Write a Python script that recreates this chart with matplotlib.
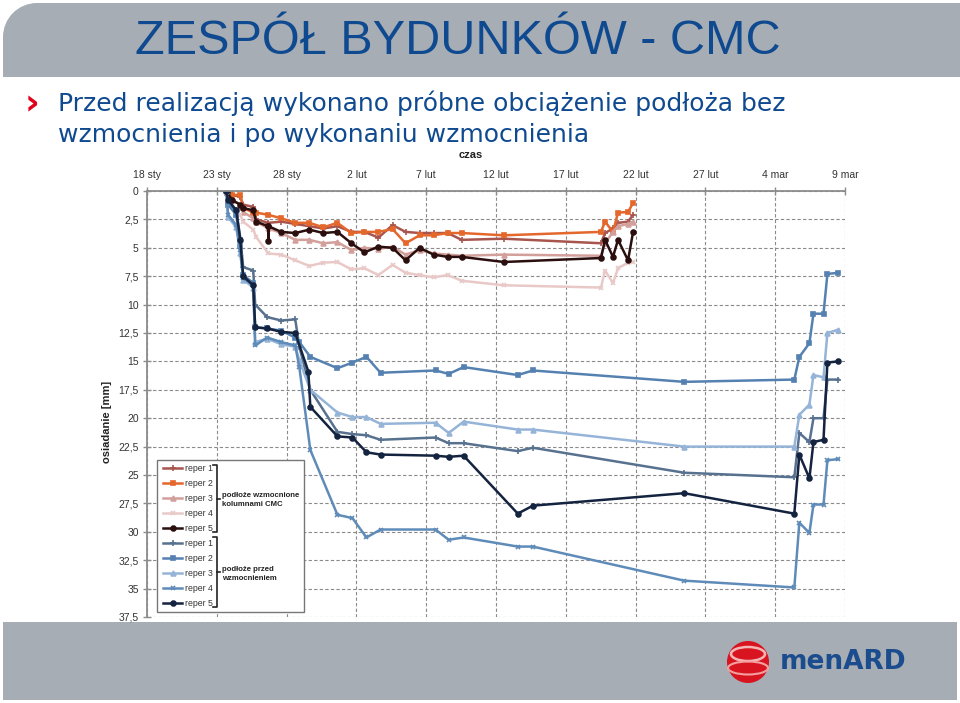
import matplotlib
matplotlib.use("Agg")
import matplotlib.pyplot as plt
from matplotlib.patches import Rectangle, Ellipse

# dni liczone od 18 stycznia
dni_cmc = [5.74, 6.10, 6.68, 6.89, 7.61, 7.82, 8.69, 9.62, 10.62, 11.63, 12.63, 13.64,
           14.64, 15.58, 16.58, 17.59, 18.52, 19.53, 20.53, 21.54, 22.54, 25.56,
           32.52, 32.81, 33.38, 33.74, 34.46, 34.82]
dni_cmc_5 = [5.74, 6.10, 6.68, 6.89, 7.61, 7.82, 8.68, 8.69, 8.70, 9.62, 10.62, 11.63,
             12.63, 13.64, 14.64, 15.58, 16.58, 17.59, 18.52, 19.53, 20.53, 21.54,
             22.54, 25.56, 32.52, 32.81, 33.38, 33.74, 34.46, 34.82]
dni_przed = [5.67, 5.81, 6.39, 6.68, 6.89, 7.61, 7.75, 8.61, 9.62, 10.62, 10.91, 11.70,
             13.64, 14.72, 15.72, 16.73, 20.67, 21.61, 22.68, 26.56, 27.64, 38.48,
             46.37, 46.73, 47.45, 47.74, 48.46, 48.74, 49.53]
dni_przed_5 = [5.67, 5.81, 6.39, 6.68, 6.89, 7.61, 7.75, 8.61, 9.62, 10.62, 11.56, 11.70,
               13.64, 14.72, 15.72, 16.73, 20.67, 21.61, 22.68, 26.56, 27.64, 38.48,
               46.37, 46.73, 47.45, 47.74, 48.46, 48.74, 49.53]

# osiadanie [mm] - podloze wzmocnione kolumnami CMC
cmc_r1 = [0.1, 0.35, 0.5, 1.2, 1.4, 2.5, 2.8, 2.7, 2.9, 3.1, 3.3, 3.1, 3.6, 3.6, 4.1, 3.0,
          3.6, 3.7, 3.7, 3.7, 4.3, 4.2, 4.6, 3.7, 3.3, 2.8, 2.7, 2.1]
cmc_r2 = [0.2, 0.35, 0.35, 1.5, 1.9, 1.9, 2.1, 2.4, 2.8, 2.8, 3.2, 2.8, 3.7, 3.6, 3.6, 3.35,
          4.6, 3.9, 3.9, 3.7, 3.7, 3.9, 3.6, 2.7, 3.6, 1.9, 1.85, 1.05]
cmc_r3 = [0.2, 0.8, 1.2, 1.85, 2.4, 2.7, 3.3, 3.7, 4.3, 4.3, 4.6, 4.5, 5.2, 5.0, 5.1, 4.9,
          5.6, 5.2, 5.5, 5.6, 5.7, 5.6, 5.7, 4.6, 3.6, 3.1, 2.9, 2.7]
cmc_r4 = [0.2, 1.2, 2.1, 2.7, 3.4, 4.05, 5.5, 5.6, 6.1, 6.6, 6.3, 6.25, 6.9, 6.8, 7.4, 6.5,
          7.2, 7.4, 7.6, 7.4, 7.9, 8.3, 8.5, 7.0, 8.1, 6.8, 6.3, 6.25]
cmc_r5 = [0.1, 0.8, 1.2, 1.5, 1.7, 2.7, 3.1, 4.4, 3.1, 3.6, 3.7, 3.4, 3.7, 3.6, 4.6, 5.4,
          4.9, 5.0, 6.1, 5.0, 5.6, 5.8, 5.8, 6.25, 5.9, 4.3, 5.8, 4.3, 6.1, 3.6]

# osiadanie [mm] - podloze przed wzmocnieniem
przed_r1 = [0, 1.1, 1.7, 4.1, 6.7, 7.0, 10.0, 11.1, 11.4, 11.3, 13.7, 17.5, 21.2, 21.4,
            21.5, 21.9, 21.7, 22.2, 22.2, 22.9, 22.6, 24.8, 25.2, 21.3, 22.1, 20.0, 20.0,
            16.6, 16.6]
przed_r2 = [0, 1.2, 2.1, 4.8, 7.4, 8.1, 12.0, 12.1, 12.3, 12.9, 13.3, 14.6, 15.6, 15.1,
            14.6, 16.0, 15.8, 16.1, 15.5, 16.2, 15.8, 16.8, 16.6, 14.6, 13.4, 10.8, 10.8,
            7.3, 7.2]
przed_r3 = [0, 2.3, 3.2, 5.5, 7.8, 8.5, 13.3, 13.0, 13.5, 13.7, 14.9, 17.5, 19.5, 19.9,
            19.9, 20.5, 20.4, 21.3, 20.3, 21.0, 21.0, 22.5, 22.5, 19.7, 18.8, 16.2, 16.4,
            12.5, 12.2]
przed_r4 = [0, 2.1, 3.0, 5.2, 7.7, 8.3, 13.6, 12.9, 13.3, 13.6, 15.5, 22.8, 28.5, 28.8,
            30.5, 29.8, 29.8, 30.7, 30.5, 31.3, 31.3, 34.3, 34.9, 29.2, 30.1, 27.6, 27.6,
            23.7, 23.6]
przed_r5 = [0, 0.8, 1.7, 4.3, 7.5, 8.3, 12.0, 12.1, 12.4, 12.5, 15.9, 19.0, 21.6, 21.7,
            23.0, 23.2, 23.3, 23.4, 23.3, 28.4, 27.7, 26.6, 28.4, 23.2, 25.3, 22.1, 21.9,
            15.1, 15.0]

x_ticks = [0, 5, 10, 15, 20, 25, 30, 35, 40, 45, 50]
x_labels = ['18 sty', '23 sty', '28 sty', '2 lut', '7 lut', '12 lut', '17 lut',
            '22 lut', '27 lut', '4 mar', '9 mar']
y_ticks = [0, 2.5, 5, 7.5, 10, 12.5, 15, 17.5, 20, 22.5, 25, 27.5, 30, 32.5, 35, 37.5]
y_labels = ['0', '2,5', '5', '7,5', '10', '12,5', '15', '17,5', '20', '22,5', '25',
            '27,5', '30', '32,5', '35', '37,5']

W, H = 960, 703
GRAY = '#A7ADB4'
BLUE = '#0F4A90'
narrow = ['Liberation Sans', 'DejaVu Sans']


def fx(px):
    return px / W


def fy(py):
    return 1 - py / H


fig = plt.figure(figsize=(9.6, 7.03), dpi=100)

# naglowek
r = 34
fig.add_artist(Rectangle((fx(3 + r), fy(77)), fx(960 - 3 - r), (77 - 3) / H,
                         transform=fig.transFigure, color=GRAY, lw=0, zorder=0))
fig.add_artist(Rectangle((fx(3), fy(77)), fx(r + 1), (77 - 3 - r) / H,
                         transform=fig.transFigure, color=GRAY, lw=0, zorder=0))
fig.add_artist(Ellipse((fx(3 + r), fy(3 + r)), 2 * r / W, 2 * r / H,
                       transform=fig.transFigure, color=GRAY, lw=0, zorder=0))
fig.text(fx(135), fy(41), 'ZESPÓŁ BYDUNKÓW - CMC', fontsize=35, color=BLUE,
         family=narrow, va='center', ha='left')

# punkt
fig.text(fx(25), fy(104), '›', fontsize=26, color='#E2001A', fontweight='bold',
         va='center', ha='left', zorder=1)
fig.text(fx(58), fy(103), 'Przed realizacją wykonano próbne obciążenie podłoża bez',
         fontsize=18, color=BLUE, va='center', ha='left', zorder=1)
fig.text(fx(58), fy(135), 'wzmocnienia i po wykonaniu wzmocnienia',
         fontsize=18, color=BLUE, va='center', ha='left', zorder=1)
fig.add_artist(Rectangle((0, fy(621)), 1, (621 - 147) / H, transform=fig.transFigure,
                         color='white', lw=0, zorder=2))

# stopka
fig.add_artist(Rectangle((fx(3), fy(700)), fx(957 - 3), (700 - 622) / H,
                         transform=fig.transFigure, color=GRAY, lw=0, zorder=2))
fig.add_artist(Ellipse((fx(748), fy(662)), 42 / W, 42 / H, transform=fig.transFigure,
                       color='#D7141F', lw=0, zorder=3))
fig.add_artist(Ellipse((fx(748), fy(654)), 34 / W, 14 / H, transform=fig.transFigure,
                       fill=False, ec='#F6B5B5', lw=1.8, zorder=4))
fig.add_artist(Ellipse((fx(748), fy(668)), 40 / W, 13 / H, transform=fig.transFigure,
                       fill=False, ec='#F4A0A0', lw=1.5, zorder=4))
fig.text(fx(780), fy(662), 'menARD', fontsize=19, fontweight='bold', color='#1B4C8D',
         va='center', ha='left', zorder=4)

# wykres
ax = fig.add_axes([fx(147), fy(617), (845 - 147) / W, (617 - 191) / H])
ax.set_zorder(3)

style_cmc = [
    dict(color='#A8554E', marker='+', ms=4.5),
    dict(color='#E4672C', marker='s', ms=3.5),
    dict(color='#D39F9B', marker='^', ms=3.5),
    dict(color='#E9C9C8', marker='x', ms=3.5),
    dict(color='#2A0F0E', marker='o', ms=3.5),
]
style_przed = [
    dict(color='#57718F', marker='+', ms=4.5),
    dict(color='#5581B1', marker='s', ms=3.5),
    dict(color='#95B4D8', marker='^', ms=3.5),
    dict(color='#5F8BB9', marker='x', ms=3.5),
    dict(color='#14233F', marker='o', ms=3.5),
]

cmc_x = [dni_cmc, dni_cmc, dni_cmc, dni_cmc, dni_cmc_5]
cmc_y = [cmc_r1, cmc_r2, cmc_r3, cmc_r4, cmc_r5]
przed_x = [dni_przed, dni_przed, dni_przed, dni_przed, dni_przed_5]
przed_y = [przed_r1, przed_r2, przed_r3, przed_r4, przed_r5]

handles = []
for xs, ys, st in zip(cmc_x, cmc_y, style_cmc):
    ln, = ax.plot(xs, ys, lw=1.8, mew=1.2, **st)
    handles.append(ln)
for xs, ys, st in zip(przed_x, przed_y, style_przed):
    ln, = ax.plot(xs, ys, lw=1.8, mew=1.2, **st)
    handles.append(ln)

ax.set_xlim(0, 50)
ax.set_ylim(37.5, 0)
ax.xaxis.tick_top()
ax.set_xticks(x_ticks, labels=x_labels, fontfamily=narrow)
ax.set_yticks(y_ticks, labels=y_labels, fontfamily=narrow)
ax.tick_params(axis='both', direction='inout', length=6, width=1, color='#8c8c8c',
               labelsize=7.5, labelcolor='#333333')
ax.tick_params(axis='x', pad=5)
ax.tick_params(axis='y', pad=3)
ax.grid(True, ls=(0, (3, 2)), color='#8a8a8a', lw=0.8)
ax.set_axisbelow(True)
for s in ['bottom', 'right']:
    ax.spines[s].set_visible(False)
for s in ['top', 'left']:
    ax.spines[s].set_color('#8c8c8c')
    ax.spines[s].set_linewidth(1.3)

ax.xaxis.set_label_position('top')
ax.set_xlabel('czas', fontsize=8, fontweight='bold', color='#222222', family=narrow)
ax.xaxis.set_label_coords((471 - 147) / 698, (617 - 158) / 426)
ax.set_ylabel('osiadanie [mm]', fontsize=8, fontweight='bold', color='#222222',
              family=narrow)
ax.yaxis.set_label_coords((112 - 147) / 698, (617 - 422) / 426)

# legenda z nawiasami
ax.add_patch(Rectangle((10 / 698, 5 / 426), 147 / 698, 152 / 426, transform=ax.transAxes,
                       facecolor='white', edgecolor='#777777', lw=1, zorder=4))
leg = ax.legend(handles, ['reper 1', 'reper 2', 'reper 3', 'reper 4', 'reper 5'] * 2,
                loc='upper left', bbox_to_anchor=(16 / 698, 153 / 426), frameon=False,
                borderpad=0, borderaxespad=0, handlelength=2.2, handletextpad=0.3,
                labelspacing=0.69, prop={'family': narrow, 'size': 6.3})
leg.set_zorder(5)
for t in leg.get_texts():
    t.set_color('#333333')

for top, bot in [(465, 532), (537, 607)]:
    xa = (217 - 147) / 698
    ya, yb = (617 - top) / 426, (617 - bot) / 426
    ax.plot([xa - 4 / 698, xa, xa, xa - 4 / 698], [ya, ya, yb, yb], color='#222222',
            lw=1.2, transform=ax.transAxes, zorder=6, clip_on=False)
    ax.plot([xa, xa + 3 / 698], [(ya + yb) / 2] * 2, color='#222222', lw=1.2,
            transform=ax.transAxes, zorder=6, clip_on=False)
ax.text((222 - 147) / 698, (617 - 500) / 426, 'podłoże wzmocnione\nkolumnami CMC',
        transform=ax.transAxes, fontsize=5.6, fontweight='bold', color='#222222',
        va='center', ha='left', family=narrow, zorder=6, linespacing=1.4)
ax.text((222 - 147) / 698, (617 - 574) / 426, 'podłoże przed\nwzmocnieniem',
        transform=ax.transAxes, fontsize=5.6, fontweight='bold', color='#222222',
        va='center', ha='left', family=narrow, zorder=6, linespacing=1.4)

fig.savefig('out.png', dpi=100)
